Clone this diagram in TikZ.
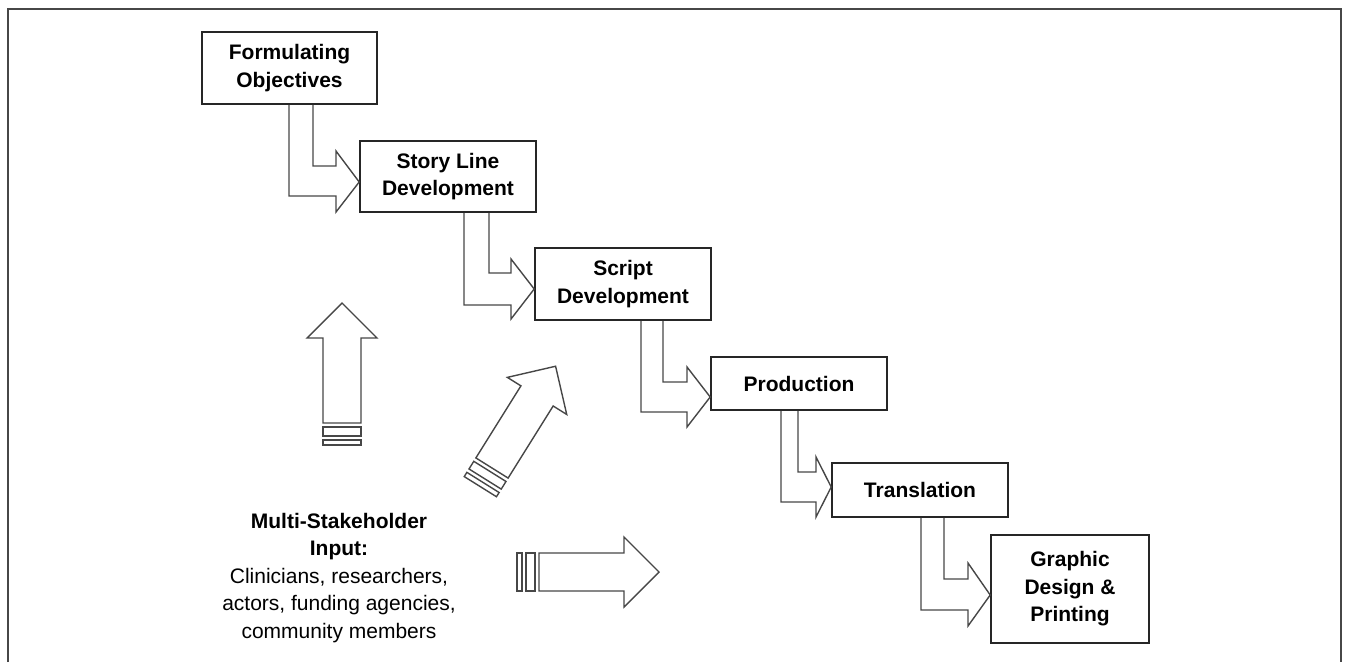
\documentclass[tikz,border=0pt]{standalone}
\usepackage{fontspec}
\setmainfont{Liberation Sans}
\begin{document}
\begin{tikzpicture}[x=1pt,y=-1pt,
  stage/.style={draw=black!85, line width=1.6pt, fill=white, align=center,
    font=\bfseries\fontsize{21}{27.5}\selectfont, inner sep=0pt},
  flow/.style={draw=black!72, line width=1.4pt, line join=miter},
  bigarrow/.style={draw=black!72, line width=1.4pt, line join=miter},
  frameline/.style={draw=black!72, line width=1.6pt},
  inarrow/.pic={
    \draw[bigarrow] (0pt,-19pt) -- (85pt,-19pt) -- (85pt,-35pt) -- (120pt,0pt)
      -- (85pt,35pt) -- (85pt,19pt) -- (0pt,19pt) -- cycle;
    \draw[bigarrow] (-4pt,-19pt) rectangle (-13pt,19pt);
    \draw[bigarrow] (-17pt,-19pt) rectangle (-22pt,19pt);
  }]
\useasboundingbox (0,0) rectangle (1346,662);
% outer frame (open at the bottom)
\draw[frameline] (8,662) -- (8,9) -- (1341,9) -- (1341,662);

% stages
\node[stage, minimum width=175pt, minimum height=72pt] (b1) at (289.5,68) {Formulating\\Objectives};
\node[stage, minimum width=176pt, minimum height=71pt] (b2) at (448,176.5) {Story Line\\Development};
\node[stage, minimum width=176pt, minimum height=72pt] (b3) at (623,284) {Script\\Development};
\node[stage, minimum width=176pt, minimum height=53pt] (b4) at (799,383.5) {Production};
\node[stage, minimum width=176pt, minimum height=54pt] (b5) at (920,490) {Translation};
\node[stage, minimum width=158pt, minimum height=108pt] (b6) at (1070,589) {Graphic\\Design \&\\Printing};

% L-shaped block arrows between stages
\draw[flow] (289,0 |- b1.south) -- (289,196) -- (336,196) -- (336,212) -- (b2.west |- 0,182)
  -- (336,151) -- (336,166) -- (313,166) -- (313,0 |- b1.south);
\draw[flow] (464,0 |- b2.south) -- (464,305) -- (511,305) -- (511,319) -- (b3.west |- 0,289)
  -- (511,259) -- (511,273) -- (489,273) -- (489,0 |- b2.south);
\draw[flow] (641,0 |- b3.south) -- (641,412) -- (687,412) -- (687,427) -- (b4.west |- 0,397)
  -- (687,367) -- (687,382) -- (663,382) -- (663,0 |- b3.south);
\draw[flow] (781,0 |- b4.south) -- (781,502) -- (816,502) -- (816,517) -- (b5.west |- 0,487)
  -- (816,457) -- (816,472) -- (798,472) -- (798,0 |- b4.south);
\draw[flow] (921,0 |- b5.south) -- (921,610) -- (968,610) -- (968,626) -- (b6.west |- 0,595)
  -- (968,563) -- (968,579) -- (944,579) -- (944,0 |- b5.south);

% stakeholder input arrows
\pic[rotate=90] (inup) at (342,423) {inarrow};
\pic[rotate=58] (indiag) at (492,468) {inarrow};
\pic (inright) at (539,572) {inarrow};

% stakeholder text
\node[align=center, font=\fontsize{21}{27.5}\selectfont, inner sep=0pt] (stake) at (339,578)
  {\textbf{Multi-Stakeholder}\\\textbf{Input:}\\Clinicians, researchers,\\actors, funding agencies,\\community members};
\end{tikzpicture}
\end{document}
